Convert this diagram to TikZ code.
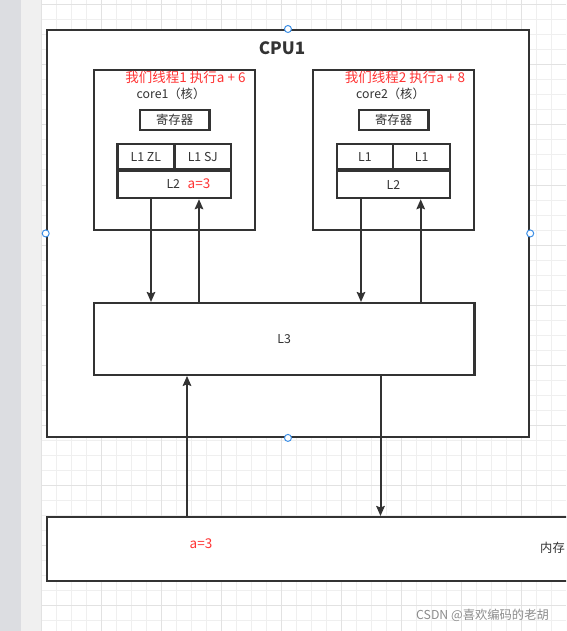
\documentclass[tikz,border=0pt]{standalone}
\usepackage{fontspec}
\setmainfont{Noto Sans CJK SC}
\usetikzlibrary{arrows.meta,calc}
\definecolor{linec}{HTML}{333333}
\definecolor{redt}{HTML}{FF3333}
\definecolor{gridmin}{HTML}{EFEFEF}
\definecolor{gridmaj}{HTML}{E2E2E2}
\definecolor{stripa}{HTML}{DCDDE1}
\definecolor{stripb}{HTML}{F0F0F0}
\definecolor{handle}{HTML}{3D8FE6}
\tikzset{
  box/.style={draw=linec, line width=2.2pt, fill=white, inner sep=0pt, anchor=north west},
  lbl/.style={text=linec, font=\fontsize{12.3}{14}\selectfont, inner sep=0pt},
  rlbl/.style={text=redt, font=\fontsize{13.5}{15}\selectfont, inner sep=0pt},
  arr/.style={draw=linec, line width=2pt, -{Stealth[inset=1.5pt,length=10pt,width=8.5pt]}},
  hdl/.style={draw=handle, fill=white, line width=1pt, circle, minimum size=7pt, inner sep=0pt},
}
\begin{document}
\begin{tikzpicture}[x=1pt,y=-1pt]
\clip (0,0) rectangle (566,631);
\useasboundingbox (0,0) rectangle (566,631);
% background
\fill[white] (0,0) rectangle (566,631);
\fill[stripa] (0,0) rectangle (21,631);
\fill[stripb] (21,0) rectangle (41,631);
\foreach \i in {0,...,35} {
  \draw[gridmin, line width=1pt] ({41.7+15*\i},0) -- ({41.7+15*\i},631);
}
\foreach \i in {0,...,42} {
  \draw[gridmin, line width=1pt] (41,{5+15*\i}) -- (566,{5+15*\i});
}
\foreach \i in {0,...,8} {
  \draw[gridmaj, line width=1pt] ({41.7+60*\i},0) -- ({41.7+60*\i},631);
}
\foreach \i in {0,...,10} {
  \draw[gridmaj, line width=1pt] (41,{5+60*\i}) -- (566,{5+60*\i});
}
% CPU
\node[box, minimum width=482.3pt, minimum height=406.7pt] (cpu) at (45.7,29) {};
\node[text=linec, font=\fontsize{17}{20}\selectfont\bfseries, inner sep=0pt] (cputxt) at (282,48) {CPU1};
% core1
\node[box, minimum width=161.3pt, minimum height=160pt] (core1) at (92.7,69) {};
\node[rlbl] (t1) at (185.5,77.7) {我们线程1 执行a + 6};
\node[lbl] (c1) at (171,93.7) {core1（核）};
\node[box, minimum width=69.6pt, minimum height=20.3pt] (reg1) at (138.7,108.7) {};
\node[lbl] at (reg1.center) {寄存器};
\node[box, minimum width=57pt, minimum height=25pt] (l1zl) at (116.3,143) {};
\node[lbl] at (l1zl.center) {L1 ZL};
\node[box, minimum width=56.7pt, minimum height=25pt] (l1sj) at (173.3,143) {};
\node[lbl] at (l1sj.center) {L1 SJ};
\node[box, minimum width=113.7pt, minimum height=27pt] (l2a) at (116.3,170) {};
\node[lbl] (l2at) at (173.3,183.7) {L2};
\node[rlbl] (l2av) at (199,183.7) {a=3};
% core2
\node[box, minimum width=161.3pt, minimum height=160pt] (core2) at (311.7,69) {};
\node[rlbl] (t2) at (405,77.7) {我们线程2 执行a + 8};
\node[lbl] (c2) at (390.5,93.7) {core2（核）};
\node[box, minimum width=69.6pt, minimum height=20.3pt] (reg2) at (357.7,108.7) {};
\node[lbl] at (reg2.center) {寄存器};
\node[box, minimum width=56.3pt, minimum height=25pt] (l1a) at (335.7,143) {};
\node[lbl] at (l1a.center) {L1};
\node[box, minimum width=57pt, minimum height=25pt] (l1b) at (392,143) {};
\node[lbl] at (l1b.center) {L1};
\node[box, minimum width=113.3pt, minimum height=27pt] (l2b) at (335.7,170) {};
\node[lbl] at (l2b.center) {L2};
% L3
\node[box, minimum width=380.6pt, minimum height=71.7pt] (l3) at (92.7,302) {};
\node[lbl] at (l3.center) {L3};
% memory
\node[box, minimum width=560pt, minimum height=63.7pt] (mem) at (46,516) {};
\node[rlbl] (memv) at (201,544) {a=3};
\node[lbl, anchor=west] (memt) at (540,548) {内存};
% watermark
\node[text=black!45, font=\fontsize{12.3}{14}\selectfont, inner sep=0pt] (wm) at (482.5,615.5) {CSDN @喜欢编码的老胡};
% connectors
\coordinate (xa) at (151,0);
\coordinate (xb) at (199,0);
\coordinate (xc) at (361,0);
\coordinate (xd) at (420.7,0);
\coordinate (xe) at (187,0);
\coordinate (xf) at (380.5,0);
\draw[arr] (l2a.south -| xa) -- (l3.north -| xa);
\draw[arr] (l3.north -| xb) -- (l2a.south -| xb);
\draw[arr] (l2b.south -| xc) -- (l3.north -| xc);
\draw[arr] ($(l3.north -| xd)+(0,2)$) -- (l2b.south -| xd);
\draw[arr] (mem.north -| xe) -- (l3.south -| xe);
\draw[arr] (l3.south -| xf) -- (mem.north -| xf);
% selection handles
\node[hdl] (h1) at (cpu.north) {};
\node[hdl] (h2) at (cpu.west) {};
\node[hdl] (h3) at (cpu.east) {};
\node[hdl] (h4) at (cpu.south) {};
\end{tikzpicture}
\end{document}
